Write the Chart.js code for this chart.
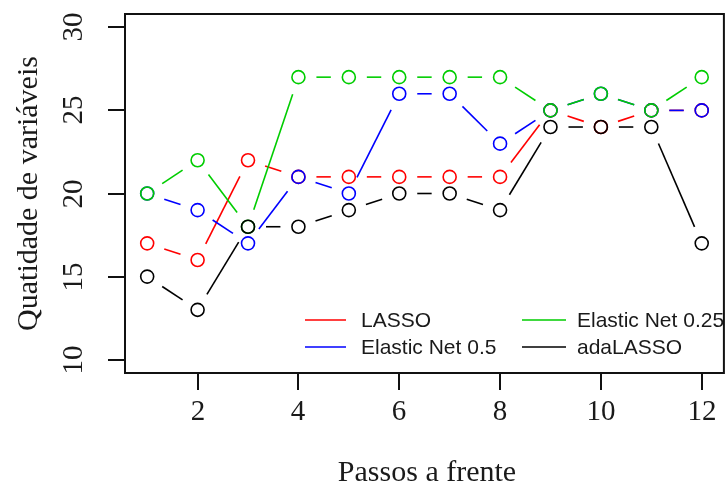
<!DOCTYPE html>
<html>
<head>
<meta charset="utf-8">
<script src="https://cdn.jsdelivr.net/npm/chart.js@4/dist/chart.umd.min.js"></script>
<style>
  html, body { margin: 0; padding: 0; background: #fff; overflow: hidden; }
  #wrap { width: 732px; height: 490px; }
</style>
</head>
<body>
<div id="wrap"><canvas id="myChart" width="732" height="490"></canvas></div>
<script>
// passos a frente (horizonte)
const passos = [1, 2, 3, 4, 5, 6, 7, 8, 9, 10, 11, 12];
const lasso = [17, 16, 22, 21, 21, 21, 21, 21, 25, 24, 25, 25];
const elasticNet05 = [20, 19, 17, 21, 20, 26, 26, 23, 25, 26, 25, 25];
const elasticNet025 = [20, 22, 18, 27, 27, 27, 27, 27, 25, 26, 25, 27];
const adaLasso = [15, 13, 18, 18, 19, 20, 20, 19, 24, 24, 24, 17];

const xTicks = [2, 4, 6, 8, 10, 12];
const yTicks = [10, 15, 20, 25, 30];

const seriesNames = ['LASSO', 'Elastic Net 0.5', 'Elastic Net 0.25', 'adaLASSO'];
const seriesColors = ['#ff0000', '#0000ff', '#00cd00', '#000000'];
const seriesValues = [lasso, elasticNet05, elasticNet025, adaLasso];

const SERIF = '"Liberation Serif", "DejaVu Serif", serif';
const SANS = '"Liberation Sans", Arial, sans-serif';

const datasets = seriesValues.map((vals, i) => ({
  label: seriesNames[i],
  data: passos.map((p, j) => ({ x: p, y: vals[j] })),
  borderColor: seriesColors[i],
  pointBorderColor: seriesColors[i],
  pointBackgroundColor: 'rgba(0,0,0,0)',
  pointRadius: 6.5,
  pointBorderWidth: 1.6,
  showLine: false,
  order: 4 - i   // first series drawn first (underneath)
}));

// R type="b": segments stop short of each point
const gappedLines = {
  id: 'gappedLines',
  afterDatasetDraw(chart, args) {
    const ctx = chart.ctx;
    const pts = args.meta.data;
    const gap = 18;
    ctx.save();
    ctx.strokeStyle = chart.data.datasets[args.index].borderColor;
    ctx.lineWidth = 1.6;
    for (let i = 0; i < pts.length - 1; i++) {
      const a = pts[i], b = pts[i + 1];
      const dx = b.x - a.x, dy = b.y - a.y;
      const len = Math.sqrt(dx * dx + dy * dy);
      if (len <= 2 * gap) continue;
      const ux = dx / len, uy = dy / len;
      ctx.beginPath();
      ctx.moveTo(a.x + ux * gap, a.y + uy * gap);
      ctx.lineTo(b.x - ux * gap, b.y - uy * gap);
      ctx.stroke();
    }
    ctx.restore();
  }
};

// base-R style box, axes, titles and legend
const rAxes = {
  id: 'rAxes',
  afterDraw(chart) {
    const ctx = chart.ctx;
    const area = chart.chartArea;
    const xs = chart.scales.x, ys = chart.scales.y;
    ctx.save();
    ctx.strokeStyle = '#111';
    ctx.fillStyle = '#000';
    ctx.lineWidth = 2;
    ctx.strokeRect(area.left, area.top, area.right - area.left, area.bottom - area.top);

    ctx.font = '29px ' + SERIF;
    ctx.fillStyle = '#1a1a1a';
    ctx.textAlign = 'center';
    ctx.textBaseline = 'alphabetic';
    xTicks.forEach(v => {
      const px = Math.round(xs.getPixelForValue(v));
      ctx.beginPath();
      ctx.moveTo(px, area.bottom);
      ctx.lineTo(px, area.bottom + 17);
      ctx.stroke();
      ctx.fillText(String(v), px, 420);
    });
    yTicks.forEach(v => {
      const py = Math.round(ys.getPixelForValue(v));
      ctx.beginPath();
      ctx.moveTo(area.left - 17, py);
      ctx.lineTo(area.left, py);
      ctx.stroke();
      ctx.save();
      ctx.translate(82, py);
      ctx.rotate(-Math.PI / 2);
      ctx.fillText(String(v), 0, 0);
      ctx.restore();
    });

    ctx.font = '30px ' + SERIF;
    ctx.fillText('Passos a frente', 427, 481);
    ctx.save();
    ctx.translate(37, (area.top + area.bottom) / 2);
    ctx.rotate(-Math.PI / 2);
    ctx.fillText('Quatidade de variáveis', 0, 0);
    ctx.restore();

    // legend (two columns, no box)
    ctx.font = '21px ' + SANS;
    ctx.textAlign = 'left';
    ctx.textBaseline = 'middle';
    ctx.lineWidth = 1.6;
    const cols = [{ x0: 305, x1: 346, tx: 361 }, { x0: 522, x1: 566, tx: 577 }];
    const rows = [320, 347];
    seriesNames.forEach((name, i) => {
      const c = cols[Math.floor(i / 2)], y = rows[i % 2];
      ctx.strokeStyle = seriesColors[i];
      ctx.beginPath();
      ctx.moveTo(c.x0, y);
      ctx.lineTo(c.x1, y);
      ctx.stroke();
      ctx.fillStyle = '#1a1a1a';
      ctx.fillText(name, c.tx, y + 1);
    });
    ctx.restore();
  }
};

new Chart(document.getElementById('myChart').getContext('2d'), {
  type: 'line',
  data: { datasets: datasets },
  options: {
    responsive: false,
    animation: false,
    layout: { padding: { left: 125, top: 14, right: 3, bottom: 117 } },
    scales: {
      x: { type: 'linear', min: 0.56, max: 12.44, display: false },
      y: { type: 'linear', min: 9.2, max: 30.8, display: false }
    },
    plugins: { legend: { display: false }, tooltip: { enabled: false } }
  },
  plugins: [gappedLines, rAxes]
});
</script>
</body>
</html>
